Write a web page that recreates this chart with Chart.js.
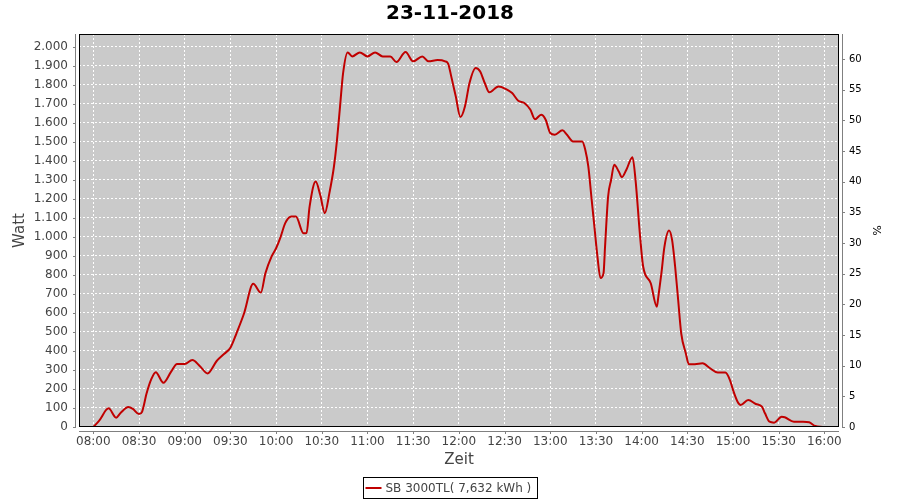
<!DOCTYPE html>
<html>
<head>
<meta charset="utf-8">
<title>23-11-2018</title>
<script src="https://cdn.jsdelivr.net/npm/chart.js@4.4.1/dist/chart.umd.min.js"></script>
<style>
	body { margin: 0; background: #fff; }
	#wrap { width: 900px; height: 500px; }
</style>
</head>
<body>
<div id="wrap"><canvas id="yield-chart" width="900" height="500"></canvas></div>
<script>
	'use strict';

	// Readings of the day (time of day, watts).
	var timeLabels = [
		'08:00', '08:04', '08:10', '08:15', '08:18', '08:23', '08:26', '08:30', '08:32', '08:35',
		'08:38', '08:41', '08:46', '08:51', '08:55', '09:00', '09:05', '09:10', '09:15', '09:21',
		'09:26', '09:30', '09:34', '09:39', '09:45', '09:50', '09:53', '09:57', '10:00', '10:03',
		'10:06', '10:10', '10:13', '10:18', '10:20', '10:22', '10:26', '10:29', '10:32', '10:35',
		'10:38', '10:40', '10:42', '10:44', '10:47', '10:50', '10:55', '11:00', '11:05', '11:10',
		'11:15', '11:19', '11:25', '11:30', '11:36', '11:40', '11:46', '11:51', '11:53', '11:55',
		'11:58', '12:01', '12:04', '12:07', '12:11', '12:14', '12:17', '12:20', '12:26', '12:31',
		'12:35', '12:39', '12:43', '12:47', '12:50', '12:54', '12:57', '13:00', '13:03', '13:08',
		'13:11', '13:15', '13:21', '13:23', '13:25', '13:27', '13:29', '13:31', '13:33', '13:35',
		'13:36', '13:38', '13:40', '13:42', '13:45', '13:47', '13:50', '13:54', '13:56', '13:59',
		'14:01', '14:06', '14:10', '14:11', '14:13', '14:15', '14:18', '14:20', '14:22', '14:24',
		'14:26', '14:29', '14:31', '14:35', '14:40', '14:45', '14:50', '14:55', '14:58', '15:00',
		'15:03', '15:05', '15:10', '15:15', '15:19', '15:21', '15:24', '15:27', '15:32', '15:34',
		'15:40', '15:46', '15:50', '15:54', '15:59'
	];
	var wattValues = [
		0, 35, 98, 49, 75, 105, 95, 68, 80, 177,
		250, 288, 233, 290, 331, 331, 352, 320, 282, 347,
		385, 417, 493, 598, 753, 707, 809, 896, 940, 1000,
		1072, 1107, 1107, 1019, 1020, 1159, 1291, 1220, 1125, 1230,
		1370, 1510, 1686, 1861, 1970, 1949, 1970, 1949, 1970, 1949,
		1949, 1919, 1972, 1923, 1949, 1923, 1930, 1923, 1910, 1844,
		1738, 1630, 1686, 1809, 1888, 1870, 1809, 1760, 1791, 1777,
		1756, 1716, 1704, 1668, 1619, 1642, 1616, 1546, 1537, 1560,
		1537, 1502, 1502, 1458, 1370, 1212, 1054, 896, 783, 809,
		949, 1212, 1300, 1379, 1344, 1314, 1353, 1419, 1300, 1002,
		844, 756, 633, 686, 809, 949, 1033, 984, 844, 668,
		493, 388, 330, 330, 335, 309, 286, 286, 247, 195,
		133, 116, 142, 121, 107, 72, 28, 23, 54, 51,
		28, 28, 25, 5, 0
	];

	// Axis ticks.
	var timeTicks = [
		'08:00', '08:30', '09:00', '09:30', '10:00', '10:30', '11:00', '11:30', '12:00',
		'12:30', '13:00', '13:30', '14:00', '14:30', '15:00', '15:30', '16:00'
	];
	var wattTicks = [ 0, 100, 200, 300, 400, 500, 600, 700, 800, 900, 1000, 1100, 1200, 1300, 1400, 1500, 1600, 1700, 1800, 1900, 2000 ];
	var percentTicks = [ 0, 5, 10, 15, 20, 25, 30, 35, 40, 45, 50, 55, 60 ];

	var seriesLabel = 'SB 3000TL( 7,632 kWh )';
	var chartTitle = '23-11-2018';

	/**
	 * Convert 'HH:MM' into minutes after midnight.
	 */
	function toMinutes( label ) {
		var parts = label.split( ':' );
		return parseInt( parts[ 0 ], 10 ) * 60 + parseInt( parts[ 1 ], 10 );
	}

	function minutesToLabel( m ) {
		var h = Math.floor( m / 60 );
		var mm = m % 60;
		return ( h < 10 ? '0' : '' ) + h + ':' + ( mm < 10 ? '0' : '' ) + mm;
	}

	/**
	 * German thousands separator, e.g. 1.500.
	 */
	function formatWatt( v ) {
		if ( v < 1000 ) {
			return String( v );
		}
		var rest = String( v % 1000 );
		while ( rest.length < 3 ) {
			rest = '0' + rest;
		}
		return Math.floor( v / 1000 ) + '.' + rest;
	}

	var points = timeLabels.map( function( t, i ) {
		return { x: toMinutes( t ), y: wattValues[ i ] };
	} );

	var axisGray = '#808080';
	var labelGray = '#444444';

	/**
	 * Plot background, border, offset axis lines and the boxed legend.
	 */
	var frame = {
		id: 'frame',
		beforeDraw: function( chart ) {
			var a = chart.chartArea;
			var ctx = chart.ctx;
			ctx.save();
			ctx.fillStyle = '#cacaca';
			ctx.fillRect( a.left, a.top, a.right - a.left, a.bottom - a.top );
			ctx.restore();
		},
		afterDraw: function( chart ) {
			var a = chart.chartArea;
			var ctx = chart.ctx;
			var s = chart.scales;
			ctx.save();

			// plot outline
			ctx.strokeStyle = '#000';
			ctx.lineWidth = 1;
			ctx.strokeRect( a.left + 0.5, a.top + 0.5, a.right - a.left - 1, a.bottom - a.top - 1 );

			// axis lines, 4px away from the plot
			ctx.strokeStyle = axisGray;
			ctx.beginPath();
			ctx.moveTo( a.left - 3.5, a.top );
			ctx.lineTo( a.left - 3.5, a.bottom );
			ctx.moveTo( a.right + 3.5, a.top );
			ctx.lineTo( a.right + 3.5, a.bottom );
			ctx.moveTo( a.left, a.bottom + 4.5 );
			ctx.lineTo( a.right, a.bottom + 4.5 );

			s.y.ticks.forEach( function( t ) {
				var y = Math.round( s.y.getPixelForValue( t.value ) ) + 0.5;
				ctx.moveTo( a.left - 6, y );
				ctx.lineTo( a.left - 3, y );
			} );
			s.y1.ticks.forEach( function( t ) {
				var y = Math.round( s.y1.getPixelForValue( t.value ) ) + 0.5;
				ctx.moveTo( a.right + 3, y );
				ctx.lineTo( a.right + 6, y );
			} );
			s.x.ticks.forEach( function( t ) {
				var x = Math.round( s.x.getPixelForValue( t.value ) ) + 0.5;
				ctx.moveTo( x, a.bottom + 4 );
				ctx.lineTo( x, a.bottom + 7 );
			} );
			ctx.stroke();

			// legend
			var boxX = 363.5;
			var boxY = 477.5;
			ctx.font = '12px "DejaVu Sans"';
			var textW = ctx.measureText( seriesLabel ).width;
			var boxW = 22 + textW + 6;
			ctx.strokeStyle = '#000';
			ctx.strokeRect( boxX, boxY, Math.round( boxW ), 21 );
			ctx.strokeStyle = '#c00000';
			ctx.lineWidth = 2;
			ctx.beginPath();
			ctx.moveTo( boxX + 2, boxY + 10.5 );
			ctx.lineTo( boxX + 18, boxY + 10.5 );
			ctx.stroke();
			ctx.fillStyle = labelGray;
			ctx.textBaseline = 'middle';
			ctx.textAlign = 'left';
			ctx.fillText( seriesLabel, boxX + 22, boxY + 11 );
			ctx.restore();
		}
	};

	new Chart( document.getElementById( 'yield-chart' ), {
		type: 'line',
		data: {
			datasets: [ {
				label: seriesLabel,
				data: points,
				borderColor: '#c00000',
				backgroundColor: '#c00000',
				borderWidth: 2,
				pointRadius: 0,
				cubicInterpolationMode: 'monotone',
				fill: false,
				yAxisID: 'y'
			} ]
		},
		options: {
			responsive: false,
			animation: false,
			layout: { padding: 0 },
			font: { family: '"DejaVu Sans"' },
			plugins: {
				legend: { display: false },
				tooltip: { enabled: false },
				title: {
					display: true,
					text: chartTitle,
					color: '#000',
					font: { family: '"DejaVu Sans"', size: 20, weight: 'bold' },
					padding: { top: 2, bottom: 8 }
				}
			},
			scales: {
				x: {
					type: 'linear',
					min: 470.6,
					max: 969.6,
					afterBuildTicks: function( scale ) {
						scale.ticks = timeTicks.map( function( t ) {
							return { value: toMinutes( t ) };
						} );
					},
					afterFit: function( scale ) {
						scale.height = 73;
					},
					ticks: {
						color: labelGray,
						font: { family: '"DejaVu Sans"', size: 12 },
						padding: 8,
						maxRotation: 0,
						autoSkip: false,
						callback: function( v ) {
							return minutesToLabel( v );
						}
					},
					grid: {
						color: '#ffffff',
						lineWidth: 1,
						drawTicks: false
					},
					border: { display: false, dash: [ 2, 2 ] },
					title: {
						display: true,
						text: 'Zeit',
						color: labelGray,
						font: { family: '"DejaVu Sans"', size: 15 },
						padding: { top: 0, bottom: 31 }
					}
				},
				y: {
					type: 'linear',
					position: 'left',
					min: 0,
					max: 2066.8,
					afterBuildTicks: function( scale ) {
						scale.ticks = wattTicks.map( function( v ) {
							return { value: v };
						} );
					},
					afterFit: function( scale ) {
						scale.width = 79;
					},
					ticks: {
						color: labelGray,
						font: { family: '"DejaVu Sans"', size: 12 },
						padding: 11,
						callback: function( v ) {
							return formatWatt( v );
						}
					},
					grid: {
						color: '#ffffff',
						lineWidth: 1,
						drawTicks: false
					},
					border: { display: false, dash: [ 2, 2 ] },
					title: {
						display: true,
						text: 'Watt',
						color: labelGray,
						font: { family: '"DejaVu Sans"', size: 15 },
						padding: { top: 11, bottom: 0 }
					}
				},
				y1: {
					type: 'linear',
					position: 'right',
					min: 0,
					max: 64.08,
					afterBuildTicks: function( scale ) {
						scale.ticks = percentTicks.map( function( v ) {
							return { value: v };
						} );
					},
					afterFit: function( scale ) {
						scale.width = 61;
					},
					ticks: {
						color: '#000',
						font: { family: '"DejaVu Sans"', size: 10 },
						padding: 10
					},
					grid: { display: false, drawTicks: false },
					border: { display: false },
					title: {
						display: true,
						text: '%',
						color: '#000',
						font: { family: '"DejaVu Sans"', size: 11 },
						padding: { top: 18, bottom: 0 }
					}
				}
			}
		},
		plugins: [ frame ]
	} );
</script>
</body>
</html>
